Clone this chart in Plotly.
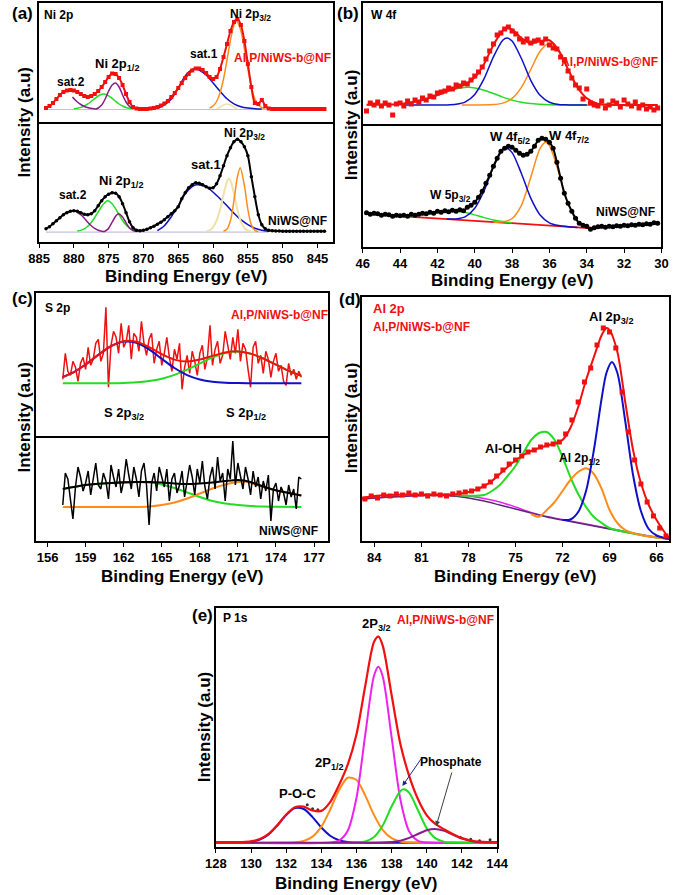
import plotly.graph_objects as go

W, H = 685, 895
FONT = "Arial, Liberation Sans, sans-serif"
RED, BLUE, GREEN, ORANGE = "#f01010", "#1010c8", "#22dd22", "#ff8c1a"
PURPLE, MAGENTA, KHAKI, DPURP = "#8a1a8a", "#ee22ee", "#eee2a8", "#5a2a7a"


def grid(start, stop, step):
    n = int(round((stop - start) / step)) + 1
    return [round(start + i * step, 2) for i in range(n)]

# ---------------- (a) Ni 2p ----------------
A_E = grid(884, 844, -0.5)
A_top = [1, 3, 6, 10, 14, 17, 18.5, 19, 18.5, 17, 15, 13, 12, 13, 15, 18, 22, 27, 32, 35.5,
         35, 31, 24, 15, 7, 2, 0.5, 0, 0, 0, 0.5, 1, 2, 3.5, 5.5, 8, 12, 16, 21, 26,
         31, 35, 38.5, 40.5, 40.5, 39, 36, 32, 30, 32, 40, 52, 65, 78, 87, 90, 84, 68, 45, 22,
         6, 5, 9, 3, 0.5, 0, 0, 0, 0, 0, 0, 0, 0, 0, 0, 0, 0, 0, 0, 0, 0]
A_bot = [3, 5, 8, 11, 14, 17, 19, 20.5, 21, 20.5, 19, 17.5, 17, 18, 21, 26, 31, 35, 37.5, 39,
         38.5, 35, 28, 19, 10, 4, 1.5, 1, 1.5, 2.5, 4, 5.5, 7.5, 9.5, 12, 15, 18, 21, 25, 33,
         39, 44, 47, 49, 48.5, 47, 45, 43.5, 44, 48, 56, 66, 76, 84, 90, 92.5, 90, 85, 76, 55,
         35, 17, 7, 3, 1.5, 1, 0.8, 0.6, 0.5, 0.5, 0.5, 0.5, 0.5, 0.5, 0.5, 0.5, 0.5, 0.5, 0.5, 0.5, 0.5]
At_green_x = [880, 879.5, 879, 878.5, 878, 877.5, 877, 876.5, 876, 875.5, 875, 874.5, 874, 873.5, 873, 872.5, 872, 871.5]
At_green_y = [0.3, 0.7, 1.6, 3, 5, 7.6, 10.4, 13, 14.8, 14.8, 13.2, 10.6, 7.7, 5, 3, 1.5, 0.7, 0.3]
At_purp_x = [880.2, 879.8, 879.4, 879, 878.6, 878.2, 877.8, 877.4, 877, 876.8, 876.5, 876, 875.5, 875, 874.5, 874, 873.5, 873, 872.5, 872, 871.5]
At_purp_y = [12, 9, 6.5, 4.5, 3, 1.8, 1, 0.4, 0.1, 0, 1, 4, 10, 18, 24, 26, 22, 14, 7, 2.5, 0.5]
At_blue_x = [868, 867, 866, 865, 864, 863, 862.6, 862, 861, 860, 859, 858, 857, 856, 855, 854, 853]
At_blue_y = [0.5, 4, 10, 21, 33, 39.5, 40.5, 39, 34, 26, 17.7, 10.2, 5.1, 2.2, 0.9, 0.3, 0]
At_or_x = [860.5, 860, 859.5, 859, 858.5, 858, 857.5, 857, 856.7, 856.5, 856, 855.5, 855, 854.5, 854, 853.5, 853, 852.5]
At_or_y = [1, 3, 7.5, 16, 30, 49, 69, 84, 88, 87, 78, 60, 40, 22, 10, 4, 1.3, 0.3]
At_kh_x = [859.5, 859, 858.5, 858, 857.5, 857, 856.5]
At_kh_y = [0, 2, 4, 5, 4, 2, 0]
Ab_green_x = [879.5, 879, 878.5, 878, 877.5, 877, 876.5, 876, 875.5, 875.2, 875, 874.5, 874, 873.5, 873, 872.5, 872, 871.5, 871]
Ab_green_y = [0.6, 1.3, 2.8, 5.4, 9.2, 14.2, 19.8, 25.4, 29.4, 31, 30.7, 27.9, 22.9, 16.9, 11.2, 6.7, 3.6, 1.7, 0.7]
Ab_purp_x = [879.5, 879, 878.5, 878, 877.5, 877, 876.5, 876, 875.6, 875.2, 875, 874.5, 874, 873.6, 873, 872.5, 872, 871.5, 871]
Ab_purp_y = [19, 17, 13.5, 9.5, 6, 3.3, 1.5, 0.5, 0.3, 2, 3.5, 9.5, 15.5, 18, 14.8, 8.9, 3.7, 1.2, 0.3]
Ab_blue_x = [868, 867, 866, 865, 864, 863, 862.4, 862, 861, 860, 859, 858, 857, 856, 855, 854, 853, 852]
Ab_blue_y = [1, 6, 15, 26, 38, 45, 47, 46.8, 45, 39.5, 33, 26, 18.5, 12, 7, 3.5, 1.5, 0.5]
Ab_kh_x = [861, 860.5, 860, 859.5, 859, 858.5, 858, 857.8, 857.5, 857, 856.5, 856, 855.5, 855, 854.5]
Ab_kh_y = [0.3, 1.4, 4.5, 11.2, 22, 37, 50, 53, 51, 38, 22, 10, 3.7, 1.1, 0.3]
Ab_or_x = [858.5, 858, 857.5, 857, 856.5, 856.1, 855.5, 855, 854.5, 854, 853.5]
Ab_or_y = [0.4, 2.6, 11.2, 31, 55, 64, 46, 22, 6.9, 1.4, 0.2]
A_base_x = [884, 852]
A_base_y = [-0.5, -0.5]
A_ticks = [885, 880, 875, 870, 865, 860, 855, 850, 845]

# ---------------- (b) W 4f ----------------
B_E = grid(45.8, 30.2, -0.2)
B_top = [-6, 2, 0, 3, -1, 2, 0, -10, 1, 2, -1, 4, 1, 5, 3, 7, 5, 9, 8, 12,
         13, 14, 17, 16, 20, 19, 22, 21, 25, 29, 33, 38, 46, 54, 61, 70, 72, 76, 78, 74,
         71, 66, 63, 66, 62, 64, 65, 62, 66, 60, 57, 56, 48, 45, 34, 27, 20, 17, 6, 16,
         2, 0, -1, 4, -3, 0, 4, 2, -2, 5, 1, -1, 3, -3, 0, -4, -2, -5, -3]
B_bot = [15.5, 14, 15, 14.5, 13, 14, 13.5, 12, 13, 12.5, 13, 12, 14, 13, 14, 15, 14.5, 16, 15, 17,
         16, 17.5, 16.5, 18, 17, 18.5, 17.5, 21, 23, 26, 31, 37, 45, 53, 62, 70, 77, 80, 82, 81,
         78, 75, 73, 74, 77, 82, 88, 90, 89, 86, 80, 66, 50, 35, 25, 17, 10, 5, 3, 2,
         -1, 0.5, 1.5, 2, 1, 2, 1.5, 2.5, 2, 3, 2.5, 3.5, 3, 4, 3.5, 4.5, 4, 5.5, 5]
Bt_fit_x = [45.8, 45, 44, 43, 42.5, 42, 41.5, 41, 40.5, 40, 39.5, 39, 38.5, 38.27, 38, 37.5, 37, 36.5,
            36, 35.5, 35, 34.5, 34, 33.5, 33, 32, 31, 30.2]
Bt_fit_y = [0.2, 0.2, 1.0, 3.9, 6.6, 10, 13.6, 17, 20.7, 27.7, 41.1, 60.1, 74.6, 77, 75.6, 66.9, 61.6, 64,
            64.7, 54.4, 35.6, 17.7, 6.7, 1.9, 0.4, 0, 0, 0]
Bt_blue_x = [43.8, 41.5, 41, 40.5, 40, 39.5, 39, 38.5, 38.27, 38, 37.5, 37, 36.5, 36, 35.5, 35, 34]
Bt_blue_y = [0, 0.1, 0.7, 3.1, 10.6, 26.3, 48.2, 64.8, 67, 64, 46.5, 24.7, 9.7, 2.8, 0.6, 0.1, 0]
Bt_or_x = [40.7, 39, 38.5, 38, 37.5, 37, 36.5, 36, 35.5, 35, 34.5, 34, 33.5, 33, 32]
Bt_or_y = [0, 0.4, 1.9, 6.7, 17.7, 35.5, 53.7, 61.7, 53.7, 35.5, 17.7, 6.7, 1.9, 0.4, 0]
Bt_gr_x = [43.8, 43, 42.5, 42, 41.5, 41, 40.4, 40, 39.5, 39, 38.5, 38, 37.5, 37, 36, 35, 34, 32, 30.2]
Bt_gr_y = [1.2, 3.9, 6.6, 10, 13.5, 16.3, 17.7, 17.1, 14.8, 11.5, 7.9, 4.9, 2.7, 1.4, 0.24, 0.05, 0, 0, 0]
Bb_base_x = [45.9, 33.7, 30.1]
Bb_base_y = [14.4, 0, 5.3]
Bb_blue_x = [41.5, 41, 40.5, 40, 39.5, 39, 38.5, 38.3, 38, 37.5, 37, 36.5, 36, 35.5, 35, 34.5]
Bb_blue_y = [9.3, 9.4, 11.7, 20, 37.5, 61.3, 78.5, 80, 75.7, 54.8, 30.2, 13.4, 5.5, 2.7, 1.6, 0.9]
Bb_or_x = [39, 38.5, 38, 37.5, 37, 36.5, 36.2, 36, 35.5, 35, 34.5, 34, 33.5]
Bb_or_y = [6.2, 6.5, 9.8, 23, 50.9, 79.9, 86, 82.8, 55.8, 24.6, 7.3, 1.5, 0.4]
Bb_gr_x = [43.5, 43, 42.5, 42, 41.5, 41, 40.5, 40, 39.5, 39, 38.5, 38]
Bb_gr_y = [12.6, 13.1, 14.3, 15.8, 17, 17.1, 15.8, 13.4, 10.7, 8.3, 6.7, 5.5]
B_ticks = [46, 44, 42, 40, 38, 36, 34, 32, 30]

# ---------------- (c) S 2p ----------------
C_E = grid(157.2, 176.0, 0.2)
C_top = [4, 30, 12, 8, 22, 16, 2, 20, 26, 14, 36, 18, 24, 40, 44,
         22, 30, 76, -4, 38, 52, 46, 30, 60, 36, 42, 58, 24, 50, 46, 32, 62, 40, 28, 44,
         50, 20, 34, 42, 18, 30, 46, 26, 12, 34, 24, 40, -6, 16, 28, 10, 32, 22, 8, 30,
         38, 14, 26, 58, 18, 34, 42, 20, 28, 52, 36, 24, 46, 30, 54, 22, 40, 34, 14, -4,
         36, 42, 20, 28, 10, 32, 24, 6, 22, 30, 12, 18, 2, -2, 20, 8, 14, 4, 12, 6]
C_bot = [2, 34, 28, 10, -12, 20, 40, 30, 16, 24, 36, 12, 28, 44, 22,
         18, 34, 26, 8, 42, 30, 20, 38, 14, 26, 48, 32, 18, 40, 28, 10, 36, 44, 22, -18,
         24, 34, 16, 40, 30, 20, 38, 6, 28, 34, 14, 22, 36, 10, 26, 42, 30, 12, 38, 24,
         46, 20, 8, 30, 40, 18, 50, 26, 34, 6, 38, 28, 66, 22, 44, 32, 18, 40, 28, 12,
         36, 20, 30, 8, 26, 16, 32, -14, 18, 24, 6, 20, 14, 2, 22, 10, 18, -2, 30, 28]
Ct_fit_x = [157.2, 158, 159, 160, 161, 162, 163, 164, 165, 166, 167, 168, 169, 170, 171, 172, 173, 174, 175, 176]
Ct_fit_y = [6.3, 10.7, 18.8, 28.4, 37.2, 42.1, 41.5, 36.2, 29.1, 23.7, 21.8, 23.7, 27.4, 30.8, 31.9, 29.7, 24.8, 18.6, 12.5, 7.5]
Ct_blue_x = [157.2, 158, 159, 160, 161, 162, 163, 164, 165, 166, 167, 168, 169, 170, 171, 172, 176]
Ct_blue_y = [6.3, 10.7, 18.8, 28.4, 37.1, 41.7, 40.5, 33.9, 24.5, 15.3, 8.2, 3.8, 1.5, 0.5, 0.2, 0, 0]
Ct_gr_x = [157.2, 161, 162, 163, 164, 165, 166, 167, 168, 169, 170, 171, 172, 173, 174, 175, 176]
Ct_gr_y = [0, 0.1, 0.4, 1.0, 2.3, 4.6, 8.4, 13.6, 19.9, 25.9, 30.3, 31.7, 29.6, 24.8, 18.6, 12.5, 7.5]
Cb_fit_x = [157.2, 159, 161, 163, 164, 165, 166, 167, 168, 169, 170, 171, 172, 173, 174, 175, 176]
Cb_fit_y = [18, 22, 24, 25, 25, 24.5, 23.5, 23, 23.5, 24.5, 26, 27, 25, 20.5, 16.7, 14, 11.5]
Cb_gr_x = [157.2, 159, 161, 163, 164, 165, 166, 167, 168, 169, 170, 171, 172, 173, 174, 176]
Cb_gr_y = [18, 22, 24, 25, 24.5, 22.5, 19, 14.5, 10, 6, 3.5, 2, 1, 0.5, 0.2, 0]
Cb_or_x = [157.2, 163, 164, 165, 166, 167, 168, 169, 170, 171, 171.5, 172, 173, 174, 175, 176]
Cb_or_y = [0, 0, 0.5, 2, 4.5, 8.5, 13.5, 18.5, 22.5, 25, 25.5, 24, 20, 16.5, 14, 11.5]
C_ticks = [156, 159, 162, 165, 168, 171, 174, 177]

# ---------------- (d) Al 2p ----------------
D_E = grid(84.6, 65.4, -0.4)
D_pts = [21, 24, 22, 25, 24, 26, 25, 27, 25, 26, 24, 26, 25, 24, 26, 27, 28, 29, 31, 34,
         38, 44, 50, 56, 60, 64, 68, 70, 73, 75, 76, 78, 86, 100, 118, 138, 152, 175, 192, 188,
         172, 128, 88, 60, 36, 18, 4, -8, -16]
D_fit_x = [84.8, 84, 83, 82, 81, 80, 79, 78.5, 78, 77.5, 77, 76.5, 76, 75.5, 75, 74.5, 74, 73.5,
           73, 72.5, 72, 71.5, 71, 70.5, 70, 69.5, 69.2, 69, 68.5, 68, 67.5, 67, 66.5, 66, 65.5, 65.2]
D_fit_y = [22, 24, 25, 25.5, 25.5, 25.5, 25.5, 26.5, 28, 30.5, 34, 39, 46, 53, 59.5, 65, 69, 72,
           74.5, 76.5, 80, 92, 113, 140, 163, 185, 192, 190, 168, 118, 70, 37, 15, 0, -12, -18]
D_pur_x = [84.8, 83, 81, 80, 79, 78, 77, 76, 75, 74, 73, 72, 71, 70, 69, 68, 67, 66, 65.2]
D_pur_y = [21, 23, 24.5, 24.5, 24, 22, 19, 15, 11, 7, 3, 0, -3, -6, -9, -12, -15, -17.5, -19]
D_mag_x = [84.8, 83, 81, 80, 79, 78, 77, 76, 75, 74, 73, 72, 71, 70, 69, 68, 67, 66, 65.2]
D_mag_y = [21, 23, 24.5, 25, 25, 24, 21.5, 18, 13, 7.5, 3.5, 0.5, -2.5, -5.5, -8.5, -11.5, -14.5, -17, -18.5]
D_gr_x = [79, 78, 77, 76.5, 76, 75.5, 75, 74.5, 74, 73.5, 73.2, 73, 72.5, 72, 71.5, 71, 70.5, 70,
          69.5, 69, 68, 67, 66, 65.2]
D_gr_y = [25, 24.2, 25, 29, 35, 44, 54, 67, 80, 87, 88.3, 88, 80, 63, 43, 26, 13, 3,
          -3, -8, -12, -15, -17.5, -19]
D_or_x = [74, 73.5, 73, 72.5, 72, 71.5, 71, 70.5, 70, 69.5, 69, 68.5, 68, 67, 66, 65.2]
D_or_y = [6, 3.3, 10, 18, 29, 40, 48, 51.7, 46, 31, 10, -3, -10, -15, -17.5, -19]
D_bl_x = [72, 71.5, 71, 70.5, 70, 69.5, 69.2, 68.85, 68.5, 68, 67.5, 67, 66.5, 66, 65.5, 65.2]
D_bl_y = [0, 0.5, 8, 29, 70, 122, 147, 158, 147, 99, 45, 9, -9, -15.5, -18, -19]
D_ticks = [84, 81, 78, 75, 72, 69, 66]

# ---------------- (e) P 1s ----------------
E_red_x = [128, 128.5, 129, 129.5, 130, 130.5, 131, 131.5, 132, 132.5, 133, 133.5, 134, 134.5, 135, 135.5,
           136, 136.5, 137, 137.25, 137.5, 138, 138.5, 139, 139.5, 140, 140.5, 141, 141.5, 142, 142.5,
           143, 143.5, 144]
E_red_y = [0.5, 0.5, 0.5, 0.7, 1.4, 3.6, 8.8, 17.7, 28.2, 35.5, 36, 32.2, 31.8, 40.6, 57.4, 78,
           108.4, 157, 201, 206, 196.5, 147.4, 98.4, 66.6, 43.5, 27.4, 18.5, 13.2, 8.5, 4.6, 2.2,
           1.0, 0.6, 0.5]
E_blue_x = [128, 129.5, 130, 130.5, 131, 131.5, 132, 132.5, 133, 133.5, 134, 134.5, 135, 135.5, 136, 137, 144]
E_blue_y = [0, 0.2, 0.9, 3.1, 8.3, 17.2, 27.6, 34.6, 33.7, 25.6, 15.2, 7, 2.5, 0.7, 0.15, 0, 0]
E_or_x = [128, 132, 132.5, 133, 133.5, 134, 134.5, 135, 135.5, 136, 136.5, 137, 137.5, 138, 138.5, 139, 139.5, 144]
E_or_y = [0, 0.08, 0.4, 1.8, 6.1, 16.1, 32.9, 52.4, 64.9, 62.7, 47.1, 27.6, 12.6, 4.5, 1.2, 0.27, 0.05, 0]
E_mag_x = [128, 134.5, 135, 135.5, 136, 136.5, 137, 137.25, 137.5, 138, 138.5, 139, 139.5, 140, 144]
E_mag_y = [0, 0.22, 2.0, 11.9, 44.9, 108.2, 167.2, 176, 165.8, 105.3, 42.9, 11.2, 1.9, 0.2, 0]
E_gr_x = [128, 136, 136.5, 137, 137.5, 138, 138.5, 138.7, 139, 139.5, 140, 140.5, 141, 141.5, 144]
E_gr_y = [0, 0.18, 1.2, 5.6, 17.4, 36.4, 51.7, 53.4, 49.8, 32.4, 14.3, 4.3, 0.85, 0.12, 0]
E_pur_x = [128, 137.5, 138, 138.5, 139, 139.5, 140, 140.45, 141, 141.5, 142, 142.5, 143, 143.5, 144]
E_pur_y = [0, 0.18, 0.68, 2.05, 4.8, 8.7, 12.4, 13.7, 11.8, 7.9, 4.1, 1.7, 0.53, 0.13, 0]
E_dat_x = [130.1, 133.2, 133.5, 133.8, 141.9, 142.5, 143.0, 143.6]
E_dat_y = [1.5, 38, 34, 33, 5.5, 3.5, 2, 3]
E_ticks = [128, 130, 132, 134, 136, 138, 140, 142, 144]

# ---------------- figure ----------------
fig = go.Figure()


def line(x, y, ax, color, width=1.5, mode="lines", marker=None, smooth=True):
    kw = dict(x=x, y=y, xaxis="x" + ax, yaxis="y" + ax, mode=mode,
              line=dict(color=color, width=width, shape="spline" if smooth else "linear",
                        smoothing=0.8),
              hoverinfo="skip")
    if marker:
        kw["marker"] = marker
    fig.add_trace(go.Scatter(**kw))

# (a) top
line(A_base_x, A_base_y, "1", "#c8c0d8", 1.2, smooth=False)
line(At_kh_x, At_kh_y, "1", KHAKI)
line(At_green_x, At_green_y, "1", GREEN)
line(At_purp_x, At_purp_y, "1", PURPLE)
line(At_blue_x, At_blue_y, "1", BLUE)
line(At_or_x, At_or_y, "1", ORANGE)
line(A_E, A_top, "1", RED, 2, mode="lines+markers", marker=dict(symbol="square", size=4, color=RED))
# (a) bottom
line(A_base_x, A_base_y, "2", "#c8c0d8", 1.2, smooth=False)
line(Ab_green_x, Ab_green_y, "2", GREEN)
line(Ab_purp_x, Ab_purp_y, "2", PURPLE)
line(Ab_blue_x, Ab_blue_y, "2", BLUE)
line(Ab_kh_x, Ab_kh_y, "2", KHAKI, 2)
line(Ab_or_x, Ab_or_y, "2", ORANGE)
line(A_E, A_bot, "2", "black", 2, mode="lines+markers", marker=dict(size=3.5, color="black"))
# (b) top
line(Bt_gr_x, Bt_gr_y, "3", GREEN)
line(Bt_or_x, Bt_or_y, "3", ORANGE)
line(Bt_blue_x, Bt_blue_y, "3", BLUE)
line(Bt_fit_x, Bt_fit_y, "3", RED, 2)
line(B_E, B_top, "3", RED, mode="markers", marker=dict(symbol="square", size=5, color=RED))
# (b) bottom
line(Bb_base_x, Bb_base_y, "4", RED, 1.8, smooth=False)
line(Bb_gr_x, Bb_gr_y, "4", GREEN)
line(Bb_or_x, Bb_or_y, "4", ORANGE)
line(Bb_blue_x, Bb_blue_y, "4", BLUE)
line(B_E, B_bot, "4", "black", 2, mode="lines+markers", marker=dict(size=5, color="black"))
# (c) top
line(C_E, C_top, "5", RED, 1.5, smooth=False)
line(Ct_gr_x, Ct_gr_y, "5", GREEN, 2)
line(Ct_blue_x, Ct_blue_y, "5", BLUE, 2)
line(Ct_fit_x, Ct_fit_y, "5", RED, 2)
# (c) bottom
line(Cb_gr_x, Cb_gr_y, "6", GREEN, 2)
line(Cb_or_x, Cb_or_y, "6", ORANGE, 2)
line(C_E, C_bot, "6", "black", 1.5, smooth=False)
line(Cb_fit_x, Cb_fit_y, "6", "black", 2)
# (d)
line(D_mag_x, D_mag_y, "7", MAGENTA)
line(D_pur_x, D_pur_y, "7", DPURP)
line(D_gr_x, D_gr_y, "7", GREEN, 2)
line(D_or_x, D_or_y, "7", ORANGE, 2)
line(D_bl_x, D_bl_y, "7", BLUE, 2)
line(D_fit_x, D_fit_y, "7", RED, 2)
line(D_E, D_pts, "7", RED, mode="markers", marker=dict(symbol="square", size=5, color=RED))
# (e)
line(E_blue_x, E_blue_y, "8", BLUE, 2)
line(E_or_x, E_or_y, "8", ORANGE, 2)
line(E_mag_x, E_mag_y, "8", MAGENTA, 2)
line(E_gr_x, E_gr_y, "8", GREEN, 2)
line(E_pur_x, E_pur_y, "8", PURPLE, 2)
line(E_dat_x, E_dat_y, "8", "black", mode="markers", marker=dict(size=3, color="#333333"))
line(E_red_x, E_red_y, "8", RED, 2.2)


def dx(l, r):
    return [l / W, r / W]


def dy(t, b):
    return [1 - b / H, 1 - t / H]


panels = {
    "1": dict(x=(29, 333), y=(3, 124), xr=[885, 842.8], yr=[-15, 106], ticks=None),
    "2": dict(x=(29, 333), y=(124, 242), xr=[885, 842.8], yr=[-10.3, 107.7], ticks=A_ticks),
    "3": dict(x=(364, 673), y=(3, 126), xr=[46, 30], yr=[-21, 102], ticks=None),
    "4": dict(x=(364, 673), y=(126, 247), xr=[46, 30], yr=[-18.7, 102.3], ticks=B_ticks),
    "5": dict(x=(26, 328), y=(293, 438), xr=[155.1, 178.1], yr=[-54.7, 90.3], ticks=None),
    "6": dict(x=(26, 328), y=(438, 541), xr=[155.1, 178.1], yr=[-34, 69], ticks=C_ticks),
    "7": dict(x=(363, 681), y=(297, 541), xr=[84.8, 65.2], yr=[-21, 223], ticks=D_ticks),
    "8": dict(x=(212, 503), y=(608, 847), xr=[128, 144], yr=[-4.3, 234.7], ticks=E_ticks),
}

layout = {}
for k, p in panels.items():
    xn = "xaxis" if k == "1" else "xaxis" + k
    yn = "yaxis" if k == "1" else "yaxis" + k
    xa = dict(domain=dx(*p["x"]), range=p["xr"], anchor="y" + ("" if k == "1" else k),
              showline=True, linecolor="black", linewidth=1.6,
              showgrid=False, zeroline=False, fixedrange=True)
    if p["ticks"]:
        xa.update(mirror=True, tickmode="array", tickvals=p["ticks"], ticks="outside", ticklen=4,
                  tickwidth=1.2, tickcolor="black",
                  tickfont=dict(family=FONT, size=13, color="black", weight="bold"))
    else:
        # upper half of a stacked panel: draw only its top edge (the divider comes from the lower half)
        xa.update(side="top", mirror=False, showticklabels=False, ticks="")
    ya = dict(domain=dy(*p["y"]), range=p["yr"], anchor="x" + ("" if k == "1" else k),
              showline=True, mirror=True, linecolor="black", linewidth=1.6,
              showgrid=False, zeroline=False, showticklabels=False, ticks="", fixedrange=True)
    layout[xn] = xa
    layout[yn] = ya

anns = []


def ann(text, x, y, size=12, color="black", xanchor="center", angle=0):
    anns.append(dict(text=text, x=x / W, y=1 - y / H, xref="paper", yref="paper",
                     showarrow=False, xanchor=xanchor, yanchor="middle", textangle=angle,
                     font=dict(family=FONT, size=size, color=color, weight="bold")))

SAMPLE = "Al,P/NiWS-b@NF"
# panel letters
ann("(a)", 12, 14, 17)
ann("(b)", 349, 14, 17)
ann("(c)", 12, 298, 17)
ann("(d)", 351, 299, 17)
ann("(e)", 198, 615, 17)
# axis titles
for cx, cy in [(181, 277), (518, 280), (177, 576), (522, 576), (357, 883)]:
    ann("Binding Energy (eV)", cx, cy, 17)
for cx, cy in [(14, 122), (352, 125), (13, 417), (352, 418), (200, 727)]:
    ann("Intensity (a.u)", cx, cy, 17, angle=-90)
# (a)
ann("Ni 2p", 32, 15, 12, xanchor="left")
ann("sat.2", 62, 82, 12)
ann("Ni 2p<sub>1/2</sub>", 110, 64, 13)
ann("sat.1", 200, 54, 12)
ann("Ni 2p<sub>3/2</sub>", 248, 15, 12)
ann(SAMPLE, 333, 58, 12, RED, xanchor="right")
ann("Ni 2p<sub>3/2</sub>", 242, 134, 12)
ann("sat.1", 202, 165, 13)
ann("Ni 2p<sub>1/2</sub>", 114, 181, 13)
ann("sat.2", 64, 195, 12)
ann("NiWS@NF", 296, 221, 12)
# (b)
ann("W 4f", 370, 15, 12, xanchor="left")
ann(SAMPLE, 672, 62, 12, RED, xanchor="right")
ann("W 4f<sub>5/2</sub>", 516, 138, 13)
ann("W 4f<sub>7/2</sub>", 577, 136, 13)
ann("W 5p<sub>3/2</sub>", 455, 196, 12)
ann("NiWS@NF", 636, 212, 12)
# (c)
ann("S 2p", 33, 308, 12, xanchor="left")
ann(SAMPLE, 278, 315, 12, RED)
ann("S 2p<sub>3/2</sub>", 117, 413, 13)
ann("S 2p<sub>1/2</sub>", 243, 413, 13)
ann("NiWS@NF", 287, 531, 12)
# (d)
ann("Al 2p", 372, 308, 13, RED, xanchor="left")
ann(SAMPLE, 372, 327, 12, RED, xanchor="left")
ann("Al 2p<sub>3/2</sub>", 621, 318, 13)
ann("Al-OH", 510, 448, 13)
ann("Al 2p<sub>1/2</sub>", 588, 459, 12)
# (e)
ann("P 1s", 217, 618, 12, xanchor="left")
ann(SAMPLE, 450, 620, 12, RED)
ann("2P<sub>3/2</sub>", 378, 624, 13)
ann("2P<sub>1/2</sub>", 330, 763, 13)
ann("P-O-C", 296, 793, 13)
ann("Phosphate", 455, 762, 12)
# arrows
for (hx, hy, tx, ty, col) in [(405, 786, 425, 757, "#202080"), (440, 826, 456, 771, "#404040")]:
    anns.append(dict(text="", x=hx / W, y=1 - hy / H, xref="paper", yref="paper",
                     ax=tx - hx, ay=ty - hy, showarrow=True, arrowhead=2, arrowsize=1,
                     arrowwidth=1, arrowcolor=col))

fig.update_layout(**layout)
fig.update_layout(width=W, height=H, margin=dict(l=0, r=0, t=0, b=0), showlegend=False,
                  plot_bgcolor="white", paper_bgcolor="white", annotations=anns,
                  font=dict(family=FONT))
fig.write_html("out.html")
